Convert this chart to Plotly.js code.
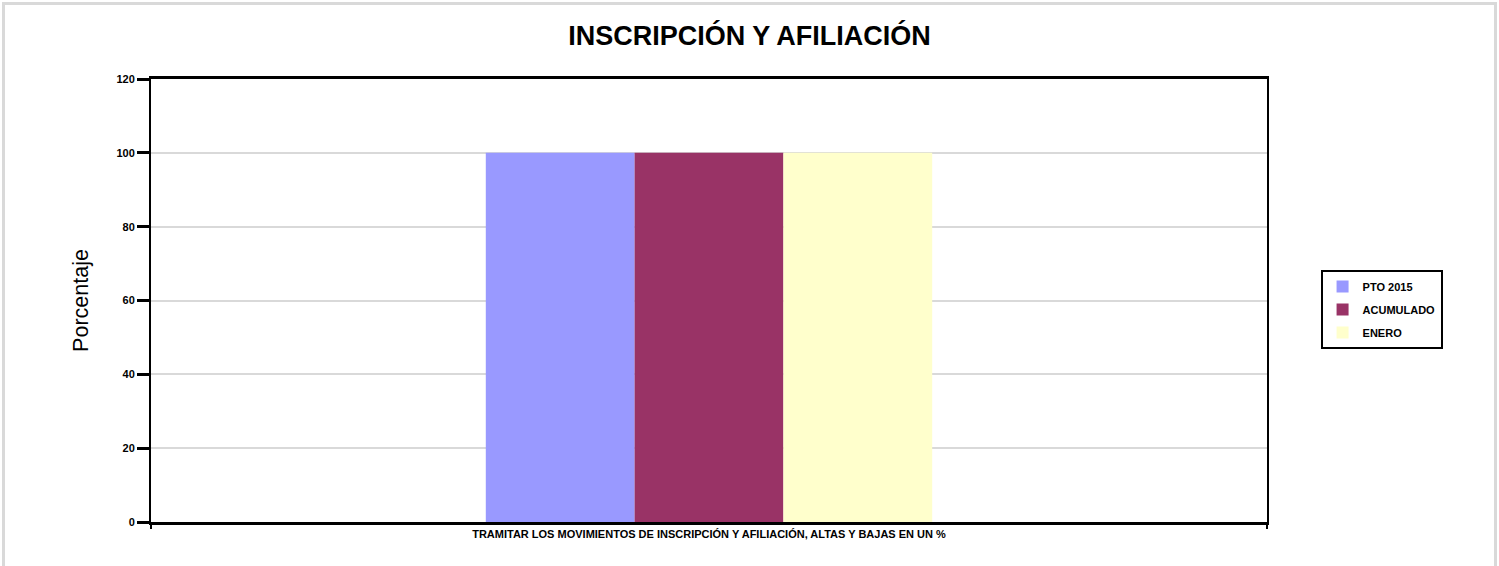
<!DOCTYPE html>
<html><head><meta charset="utf-8">
<script src="https://cdn.plot.ly/plotly-3.0.1.min.js"></script>
<style>
html,body{margin:0;padding:0;background:#fff;}
#wrap{position:relative;width:1499px;height:566px;overflow:hidden;}
#chart{width:1499px;height:566px;}
#frame{position:absolute;left:2px;top:2px;width:1489px;height:580px;border:3px solid #d9d9d9;pointer-events:none;}
</style></head>
<body>
<div id="wrap"><div id="chart"></div><div id="frame"></div></div>
<script>
var categories = ["TRAMITAR LOS MOVIMIENTOS DE INSCRIPCIÓN Y AFILIACIÓN, ALTAS Y BAJAS EN UN %"];
var seriesNames = ["PTO 2015", "ACUMULADO", "ENERO"];
var ptoValues = [100];
var acumuladoValues = [100];
var eneroValues = [100];
var colors = ["#9999FF", "#993366", "#FFFFCC"];
var yTicks = [0, 20, 40, 60, 80, 100, 120];

var allValues = [ptoValues, acumuladoValues, eneroValues];
var data = allValues.map(function(v, i){
  return {type:'bar', name: seriesNames[i], legendgroup:'g'+i, x: categories, y: v,
          marker:{color: colors[i], line:{width:0}}, hoverinfo:'y'};
});
var font = {family:'Liberation Sans, Arial, sans-serif', color:'#000'};
var layout = {
  width:1499, height:566,
  margin:{l:151, r:232, t:79, b:44, pad:0},
  paper_bgcolor:'#fff', plot_bgcolor:'#fff',
  barmode:'group', bargap:0.6, bargroupgap:0,
  font: font,
  title:{text:'INSCRIPCIÓN Y AFILIACIÓN', x:0.5, xanchor:'center', y:0.937, yanchor:'middle',
         font:{family:font.family, size:27, weight:'bold', color:'#000'}},
  xaxis:{type:'category', showline:true, mirror:true, linecolor:'#000', linewidth:3,
         ticks:'outside', tickson:'boundaries', ticklen:4, tickwidth:2, tickcolor:'#000',
         showgrid:false, tickfont:{family:font.family, size:11, weight:'bold', color:'#000'}},
  yaxis:{range:[0,120], tickvals:yTicks, ticktext:yTicks.map(String),
         showline:true, mirror:true, linecolor:'#000', linewidth:2,
         ticks:'outside', ticklen:12, tickwidth:3, tickcolor:'#000',
         showgrid:true, gridcolor:'#d9d9d9', gridwidth:2, zeroline:false,
         tickfont:{family:font.family, size:11, weight:'bold', color:'#000'},
         title:{text:'Porcentaje', standoff:22, font:{family:font.family, size:21.5, color:'#000'}}},
  showlegend:true,
  legend:{x:1.048, xanchor:'left', y:0.569, yanchor:'top', bordercolor:'#000', borderwidth:2,
          bgcolor:'#fff', traceorder:'grouped', tracegroupgap:4, itemwidth:30,
          font:{family:font.family, size:11, weight:'bold', color:'#000'}}
};
Plotly.newPlot('chart', data, layout, {displayModeBar:false, staticPlot:true});
</script>
</body></html>
